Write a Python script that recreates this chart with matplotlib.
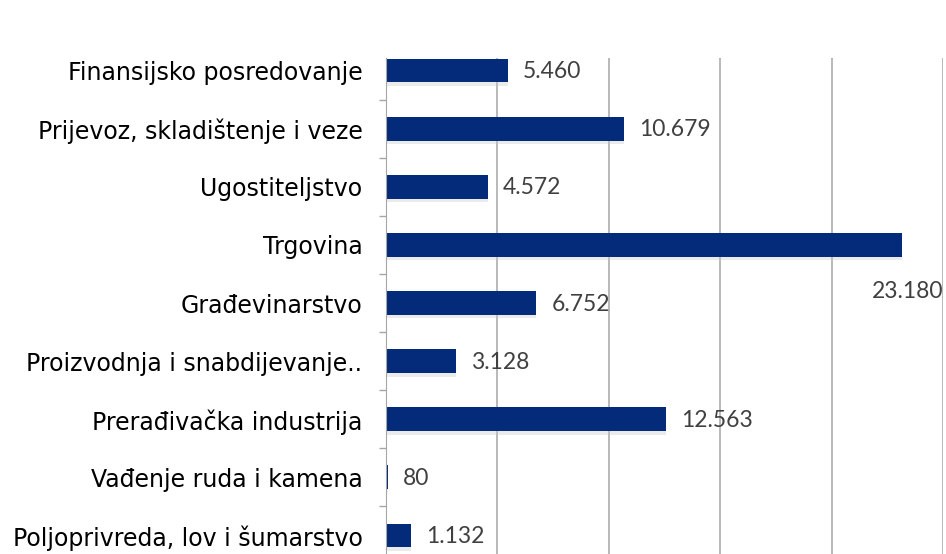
import matplotlib.pyplot as plt
import numpy as np

kategorije = ["Poljoprivreda, lov i šumarstvo", "Vađenje ruda i kamena",
              "Prerađivačka industrija", "Proizvodnja i snabdijevanje..",
              "Građevinarstvo", "Trgovina", "Ugostiteljstvo",
              "Prijevoz, skladištenje i veze", "Finansijsko posredovanje"]
vrijednosti = [1132, 80, 12563, 3128, 6752, 23180, 4572, 10679, 5460]
oznake = ["1.132", "80", "12.563", "3.128", "6.752", "23.180", "4.572", "10.679", "5.460"]

boja = "#032b7a"
siva = "#a6a6a6"

fig = plt.figure(figsize=(9.46, 5.54), dpi=100)
ax = fig.add_axes([386/946, 0, 557/946, 1 - 58/554])

y = np.arange(len(kategorije))
# blaga sjena ispod traka
ax.barh(y - 0.06, vrijednosti, height=0.41, color="#c8c8c8", alpha=0.35, zorder=1)
ax.barh(y, vrijednosti, height=0.41, color=boja, zorder=2)

ax.set_xlim(0, 25000)
ax.set_ylim(-0.318, 8.215)
ax.set_xticks([5000, 10000, 15000, 20000, 25000])
ax.xaxis.grid(True, color=siva, linewidth=1.1)
ax.set_axisbelow(True)
ax.tick_params(axis="x", length=0, labelbottom=False)

ax.set_yticks(y)
ax.set_yticklabels(kategorije, fontsize=17, fontfamily="DejaVu Sans", color="black")
ax.tick_params(axis="y", which="major", length=0, pad=17)
ax.set_yticks(y[:-1] + 0.5, minor=True)
ax.tick_params(axis="y", which="minor", length=5, color=siva, width=1)

for s in ["top", "right", "bottom"]:
    ax.spines[s].set_visible(False)
ax.spines["left"].set_color(siva)

for i, (v, t) in enumerate(zip(vrijednosti, oznake)):
    if v > 20000:
        ax.text(25000, i - 0.8, t, ha="right", va="center", fontsize=16.5,
                fontfamily="Lato", color="#404040")
    else:
        ax.text(v + 680, i - 0.02, t, ha="left", va="center", fontsize=16.5,
                fontfamily="Lato", color="#404040")

fig.savefig("out.png", dpi=100)
